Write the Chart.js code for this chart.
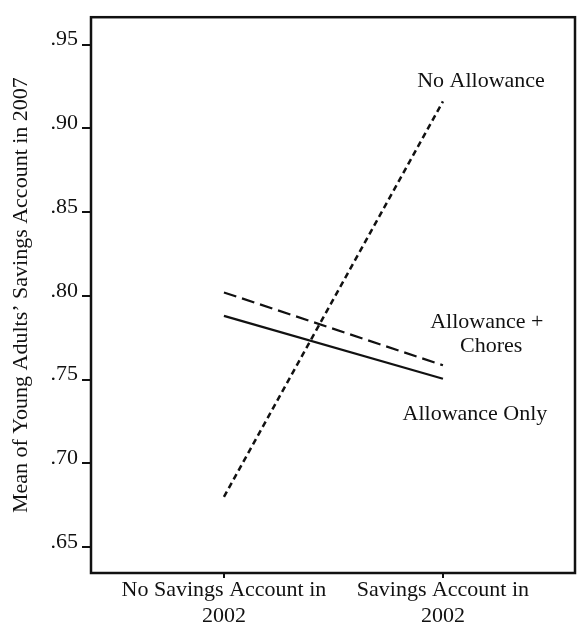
<!DOCTYPE html>
<html lang="en">
<head>
    <meta charset="UTF-8">
    <title>Young Adults' Savings Account</title>
    <script src="https://cdn.jsdelivr.net/npm/chart.js"></script>
    <style>
        body {
            margin: 0;
            padding: 0;
            background: #fff;
        }
        .chart-container {
            width: 578px;
            height: 627px;
        }
    </style>
</head>
<body>
    <div class="chart-container"><canvas id="savingsChart"></canvas></div>

    <script>
        const categories = [['No Savings Account in', '2002'], ['Savings Account in', '2002']];
        const noAllowance = [0.680, 0.916];
        const allowanceChores = [0.802, 0.7585];
        const allowanceOnly = [0.788, 0.7505];
        const yTickValues = [0.65, 0.70, 0.75, 0.80, 0.85, 0.90, 0.95];

        const serif = "'Liberation Serif', 'DejaVu Serif', serif";

        function toPoints(values) {
            return values.map((v, i) => ({ x: i, y: v }));
        }

        // box around the plot area
        const frame = {
            id: 'frame',
            afterDraw(chart) {
                const a = chart.chartArea;
                const ctx = chart.ctx;
                ctx.save();
                ctx.strokeStyle = '#111';
                ctx.lineWidth = 2.5;
                ctx.strokeRect(a.left, a.top, a.right - a.left, a.bottom - a.top);
                ctx.restore();
            }
        };

        // line labels placed in data space
        const lineLabels = {
            id: 'lineLabels',
            afterDatasetsDraw(chart, args, opts) {
                const ctx = chart.ctx;
                const xs = chart.scales.x, ys = chart.scales.y;
                ctx.save();
                ctx.fillStyle = '#111';
                ctx.font = opts.font;
                ctx.textAlign = 'center';
                ctx.textBaseline = 'middle';
                opts.items.forEach(it => {
                    ctx.fillText(it.text, xs.getPixelForValue(it.x), ys.getPixelForValue(it.y));
                });
                ctx.restore();
            }
        };

        const ctx = document.getElementById('savingsChart').getContext('2d');
        new Chart(ctx, {
            type: 'line',
            data: {
                datasets: [
                    {
                        label: 'No Allowance',
                        data: toPoints(noAllowance),
                        borderColor: '#111',
                        borderWidth: 2.5,
                        borderDash: [6, 4],
                        pointRadius: 0
                    },
                    {
                        label: 'Allowance + Chores',
                        data: toPoints(allowanceChores),
                        borderColor: '#111',
                        borderWidth: 2.2,
                        borderDash: [13, 6],
                        pointRadius: 0
                    },
                    {
                        label: 'Allowance Only',
                        data: toPoints(allowanceOnly),
                        borderColor: '#111',
                        borderWidth: 2.2,
                        pointRadius: 0
                    }
                ]
            },
            options: {
                responsive: true,
                maintainAspectRatio: false,
                animation: false,
                layout: { padding: { top: 10, right: 3, left: 0, bottom: 0 } },
                plugins: {
                    legend: { display: false },
                    tooltip: { enabled: false },
                    lineLabels: {
                        font: '22px ' + serif,
                        items: [
                            { text: 'No Allowance', x: 1.174, y: 0.928 },
                            { text: 'Allowance +', x: 1.20, y: 0.7845 },
                            { text: 'Chores', x: 1.22, y: 0.7698 },
                            { text: 'Allowance Only', x: 1.146, y: 0.7292 }
                        ]
                    }
                },
                scales: {
                    x: {
                        type: 'linear',
                        min: -0.607,
                        max: 1.603,
                        afterBuildTicks: scale => { scale.ticks = [{ value: 0 }, { value: 1 }]; },
                        afterFit: scale => { scale.height = 54; },
                        ticks: {
                            color: '#111',
                            font: { family: serif, size: 22, lineHeight: 1.15 },
                            padding: 0,
                            maxRotation: 0,
                            callback: v => categories[v]
                        },
                        grid: {
                            display: true,
                            drawOnChartArea: false,
                            drawTicks: true,
                            tickLength: 5,
                            color: '#111',
                            lineWidth: 2
                        },
                        border: { display: false }
                    },
                    y: {
                        min: 0.6345,
                        max: 0.9663,
                        afterBuildTicks: scale => { scale.ticks = yTickValues.map(v => ({ value: v })); },
                        afterFit: scale => { scale.width = 91; },
                        ticks: {
                            color: '#111',
                            font: { family: serif, size: 22 },
                            padding: 4,
                            labelOffset: -5,
                            callback: v => v.toFixed(2).replace(/^0/, '')
                        },
                        grid: {
                            display: true,
                            drawOnChartArea: false,
                            drawTicks: true,
                            tickLength: 9,
                            color: '#111',
                            lineWidth: 2
                        },
                        border: { display: false },
                        title: {
                            display: true,
                            text: 'Mean of Young Adults\u2019 Savings Account in 2007',
                            color: '#111',
                            font: { family: serif, size: 22 },
                            padding: { top: 8, bottom: 0 }
                        }
                    }
                }
            },
            plugins: [frame, lineLabels]
        });
    </script>
</body>
</html>
